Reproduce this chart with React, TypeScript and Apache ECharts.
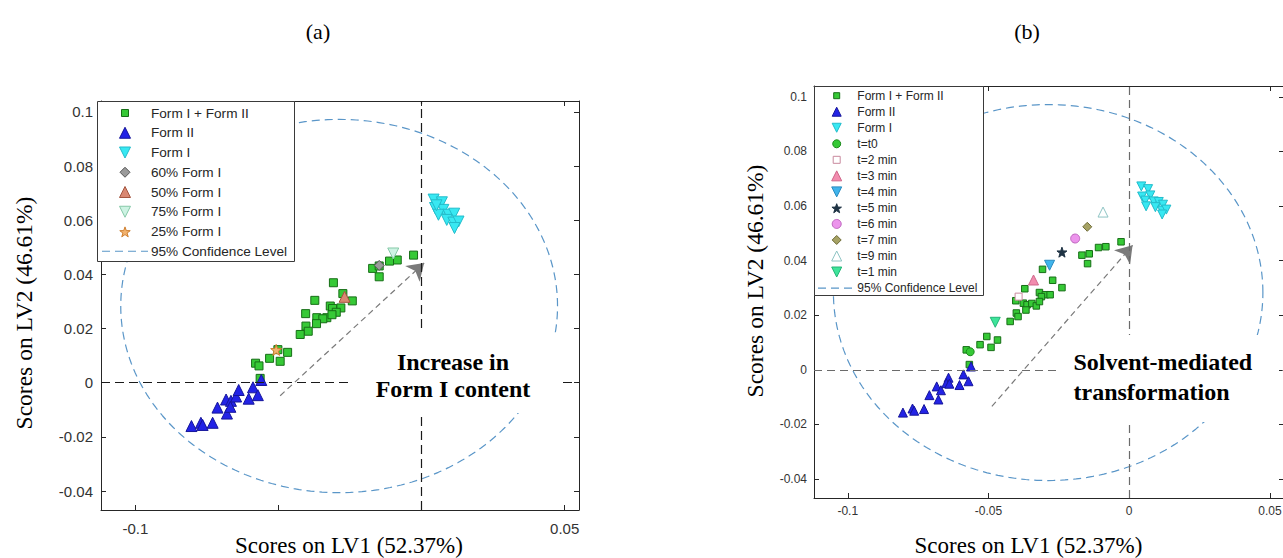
import { useEffect, useRef } from "react";
import * as echarts from "echarts";

type Pt = [number, number];

// ---------- axes ----------
const X_MIN = -0.112;
const X_MAX = 0.055;
const Y_MIN = -0.047;
const Y_MAX = 0.104;
const xTicks = [-0.1, -0.05, 0, 0.05];
const xTickLabelsA = ["-0.1", "", "", "0.05"];
const xTickLabelsB = ["-0.1", "-0.05", "0", "0.05"];
const yTicks = [-0.04, -0.02, 0, 0.02, 0.04, 0.06, 0.08, 0.1];
const yTickLabels = ["-0.04", "-0.02", "0", "0.02", "0.04", "0.06", "0.08", "0.1"];

// ---------- panel (a) data ----------
const aMix: Pt[] = [
  [-0.0028, 0.0471], [-0.0085, 0.0453], [-0.0112, 0.0449], [-0.0171, 0.0422], [-0.0148, 0.0391],
  [-0.0148, 0.0431], [-0.0308, 0.0369], [-0.0275, 0.0329], [-0.0242, 0.0302], [-0.0373, 0.0304],
  [-0.0319, 0.0283], [-0.0282, 0.0276], [-0.0311, 0.0274], [-0.0298, 0.026], [-0.0405, 0.0255],
  [-0.0366, 0.024], [-0.0331, 0.024], [-0.0313, 0.0251], [-0.0345, 0.0236], [-0.0404, 0.0209],
  [-0.0367, 0.0218], [-0.0396, 0.019], [-0.0424, 0.0178], [-0.0502, 0.0122], [-0.0468, 0.0112],
  [-0.0531, 0.009], [-0.0494, 0.0079], [-0.058, 0.0072], [-0.0568, 0.0062], [-0.0564, 0.0016],
];
const aForm2: Pt[] = [
  [-0.0804, -0.016], [-0.0771, -0.0148], [-0.0765, -0.0156], [-0.073, -0.0148], [-0.0713, -0.0092],
  [-0.068, -0.0114], [-0.0683, -0.0062], [-0.0666, -0.0067], [-0.0668, -0.0089], [-0.0648, -0.0051],
  [-0.0639, -0.0027], [-0.0604, -0.0059], [-0.0589, -0.0017], [-0.0572, -0.0046], [-0.056, 0.001],
];
const aForm1: Pt[] = [
  [0.0042, 0.0676], [0.0071, 0.0666], [0.0047, 0.0645], [0.0076, 0.0638], [0.0059, 0.062],
  [0.0094, 0.062], [0.0114, 0.0624], [0.0088, 0.0601], [0.0111, 0.0591], [0.0129, 0.0595],
  [0.0115, 0.0571], [0.0052, 0.0655],
];
const a60: Pt[] = [[-0.0148, 0.0433]];
const a50: Pt[] = [[-0.0269, 0.0317]];
const a75: Pt[] = [[-0.0099, 0.0477]];
const a25: Pt[] = [[-0.0508, 0.0121]];
const arrowA: Pt[] = [[-0.0494, -0.0048], [0.0009, 0.0442]];

// ---------- panel (b) data ----------
const bMix: Pt[] = [
  [-0.0029, 0.0469], [-0.0083, 0.0451], [-0.0109, 0.0448], [-0.0142, 0.0425], [-0.0168, 0.042],
  [-0.0148, 0.0389], [-0.0308, 0.0368], [-0.0272, 0.0328], [-0.0239, 0.0301], [-0.0371, 0.0297],
  [-0.0319, 0.0283], [-0.0298, 0.0275], [-0.0281, 0.0275], [-0.0312, 0.0268], [-0.0403, 0.0253],
  [-0.0376, 0.0244], [-0.0363, 0.0238], [-0.0346, 0.0243], [-0.033, 0.0234], [-0.0319, 0.025],
  [-0.0367, 0.0219], [-0.0401, 0.0208], [-0.0395, 0.0195], [-0.0423, 0.0177], [-0.0506, 0.0122],
  [-0.0468, 0.0109], [-0.053, 0.0092], [-0.0491, 0.0082], [-0.0579, 0.0073], [-0.0568, 0.0019],
];
const bForm2: Pt[] = [
  [-0.0804, -0.0157], [-0.077, -0.0142], [-0.0764, -0.015], [-0.0729, -0.0144], [-0.071, -0.0093],
  [-0.0678, -0.0109], [-0.0684, -0.0061], [-0.0669, -0.0075], [-0.0642, -0.0029], [-0.065, -0.0049],
  [-0.0639, -0.0051], [-0.0603, -0.0056], [-0.0589, -0.0017], [-0.0571, -0.0042], [-0.0562, 0.0012],
];
const bForm1: Pt[] = [
  [0.0043, 0.0672], [0.0067, 0.0662], [0.0046, 0.0635], [0.0075, 0.0639], [0.0057, 0.062],
  [0.0087, 0.0617], [0.0105, 0.0615], [0.012, 0.0605], [0.006, 0.0599], [0.0093, 0.0596],
  [0.0117, 0.0583], [0.0132, 0.0587], [0.0117, 0.0569],
];
const bT0: Pt[] = [[-0.0565, 0.0066]];
const bT2: Pt[] = [[-0.0393, 0.0268]];
const bT3: Pt[] = [[-0.034, 0.0329]];
const bT4: Pt[] = [[-0.0283, 0.0383]];
const bT5: Pt[] = [[-0.0239, 0.0431]];
const bT6: Pt[] = [[-0.0192, 0.0481]];
const bT7: Pt[] = [[-0.0149, 0.0524]];
const bT9: Pt[] = [[-0.0093, 0.0578]];
const bT1: Pt[] = [[-0.0476, 0.0174]];
const arrowB: Pt[] = [[-0.0488, -0.0134], [0.0012, 0.0456]];

// 95% confidence ellipse (centre and semi-axes, in score units)
const ELL = { cx: -0.0288, cy: 0.0283, rx: 0.0763, ry: 0.0689 };

// ---------- styles ----------
const SANS = '"Liberation Sans", Arial, Helvetica, sans-serif';
const SERIF = '"Liberation Serif", "Times New Roman", Times, serif';
const STAR =
  "path://M50,0 L61.8,33.8 L97.6,34.5 L69,56.2 L79.4,90.5 L50,70 L20.6,90.5 L31,56.2 L2.4,34.5 L38.2,33.8 Z";
const ELL_COLOR = "#5a96c8";
const GREEN = "#36c936";
const GREEN_EDGE = "#176e17";
const BLUE = "#2323e6";
const BLUE_EDGE = "#16169a";
const CYAN = "#38e8f2";
const CYAN_EDGE = "#22bccb";

interface SCfg {
  name: string;
  data: Pt[];
  shape: string;
  size: number;
  leg: number;
  fill: string;
  stroke: string;
}

const seriesA: SCfg[] = [
  { name: "Form I + Form II", data: aMix, shape: "square", size: 8, leg: 7, fill: GREEN, stroke: GREEN_EDGE },
  { name: "Form II", data: aForm2, shape: "up", size: 11, leg: 11, fill: BLUE, stroke: BLUE_EDGE },
  { name: "Form I", data: aForm1, shape: "down", size: 11, leg: 11, fill: CYAN, stroke: CYAN_EDGE },
  { name: "60% Form I", data: a60, shape: "diamond", size: 10, leg: 10, fill: "#9a9a9a", stroke: "#555555" },
  { name: "50% Form I", data: a50, shape: "up", size: 11, leg: 11, fill: "#d98872", stroke: "#a4553f" },
  { name: "75% Form I", data: a75, shape: "down", size: 11, leg: 11, fill: "#cdf3e3", stroke: "#86c9a8" },
  { name: "25% Form I", data: a25, shape: "star", size: 11, leg: 11, fill: "#f2b26e", stroke: "#cf7f30" },
];

const seriesB: SCfg[] = [
  { name: "Form I + Form II", data: bMix, shape: "square", size: 6.5, leg: 6, fill: GREEN, stroke: GREEN_EDGE },
  { name: "Form II", data: bForm2, shape: "up", size: 9, leg: 9, fill: BLUE, stroke: BLUE_EDGE },
  { name: "Form I", data: bForm1, shape: "down", size: 9, leg: 9, fill: CYAN, stroke: CYAN_EDGE },
  { name: "t=t0", data: bT0, shape: "circle", size: 8, leg: 8, fill: GREEN, stroke: "#1a8a1a" },
  { name: "t=2 min", data: bT2, shape: "square", size: 7, leg: 7, fill: "#ffffff", stroke: "#c98a9e" },
  { name: "t=3 min", data: bT3, shape: "up", size: 10, leg: 10, fill: "#f28cae", stroke: "#cf668a" },
  { name: "t=4 min", data: bT4, shape: "down", size: 10, leg: 10, fill: "#3fb4ec", stroke: "#2a8cc0" },
  { name: "t=5 min", data: bT5, shape: "star", size: 10, leg: 10, fill: "#1f3344", stroke: "#1f3344" },
  { name: "t=6 min", data: bT6, shape: "circle", size: 9, leg: 9, fill: "#ec94ec", stroke: "#bf66bf" },
  { name: "t=7 min", data: bT7, shape: "diamond", size: 9, leg: 9, fill: "#a6a264", stroke: "#6f6c38" },
  { name: "t=9 min", data: bT9, shape: "up", size: 10, leg: 10, fill: "#ffffff", stroke: "#8ec4c4" },
  { name: "t=1 min", data: bT1, shape: "down", size: 10, leg: 10, fill: "#3ee49a", stroke: "#22b577" },
];

const PANELS = [
  {
    grid: { left: 101, top: 101, width: 478, height: 409 },
    xLabels: xTickLabelsA,
    tickFont: 15,
    xMargin: 11,
    yMargin: 8,
    series: seriesA,
    arrow: arrowA,
    zeroColor: "#1a1a1a",
    zeroDash: [9, 5],
    legend: { x: 97, y: 101, w: 197, h: 160, mx: 125, tx: 151, y0: 113, dy: 19.75, dx0: 102, dx1: 148, font: 13.6 },
    note: { rx: 352, ry: 333, rw: 210, rh: 80, text: "Increase in\nForm I content", x: 453, y: 375.5, lh: 27, align: "center" },
    label: { text: "(a)", x: 318, y: 31 },
    xTitle: { x: 349, y: 545 },
    yTitle: { x: 24, y: 313 },
  },
  {
    grid: { left: 814, top: 86, width: 470, height: 412 },
    xLabels: xTickLabelsB,
    tickFont: 12,
    xMargin: 7,
    yMargin: 7,
    series: seriesB,
    arrow: arrowB,
    zeroColor: "#6b6b6b",
    zeroDash: [8, 5],
    legend: { x: 814, y: 86, w: 169, h: 209, mx: 836.7, tx: 857.3, y0: 95.7, dy: 16.03, dx0: 818, dx1: 855, font: 12 },
    note: { rx: 1056, ry: 335, rw: 222, rh: 87, text: "Solvent-mediated\ntransformation", x: 1073.5, y: 377, lh: 30, align: "left" },
    label: { text: "(b)", x: 1027, y: 31 },
    xTitle: { x: 1028.5, y: 545 },
    yTitle: { x: 755, y: 281 },
  },
];

function labelFor(v: number, ticks: number[], labels: string[]) {
  const i = ticks.findIndex((t) => Math.abs(t - v) < 1e-9);
  return i >= 0 ? labels[i] : "";
}

function ellipsePoints(): Pt[] {
  const pts: Pt[] = [];
  const n = 240;
  for (let i = 0; i <= n; i++) {
    const t = (i / n) * 2 * Math.PI;
    pts.push([ELL.cx + ELL.rx * Math.cos(t), ELL.cy + ELL.ry * Math.sin(t)]);
  }
  return pts;
}

function symbolOf(shape: string): { symbol: string; rotate: number } {
  switch (shape) {
    case "square":
      return { symbol: "rect", rotate: 0 };
    case "up":
      return { symbol: "triangle", rotate: 0 };
    case "down":
      return { symbol: "triangle", rotate: 180 };
    case "diamond":
      return { symbol: "diamond", rotate: 0 };
    case "star":
      return { symbol: STAR, rotate: 0 };
    default:
      return { symbol: "circle", rotate: 0 };
  }
}

function legendMarker(shape: string, cx: number, cy: number, s: number, fill: string, stroke: string): any {
  const h = s / 2;
  const style = { fill, stroke, lineWidth: 1 };
  if (shape === "square") return { type: "rect", z: 101, shape: { x: cx - h, y: cy - h, width: s, height: s }, style };
  if (shape === "circle") return { type: "circle", z: 101, shape: { cx, cy, r: h }, style };
  let points: number[][] = [];
  if (shape === "up") points = [[cx, cy - h], [cx + h, cy + h], [cx - h, cy + h]];
  else if (shape === "down") points = [[cx - h, cy - h], [cx + h, cy - h], [cx, cy + h]];
  else if (shape === "diamond") points = [[cx, cy - h], [cx + h, cy], [cx, cy + h], [cx - h, cy]];
  else {
    for (let k = 0; k < 10; k++) {
      const r = k % 2 === 0 ? h : h * 0.4;
      const a = -Math.PI / 2 + (k * Math.PI) / 5;
      points.push([cx + r * Math.cos(a), cy + 0.08 * s + r * Math.sin(a)]);
    }
  }
  return { type: "polygon", z: 101, shape: { points }, style };
}

function buildOption() {
  const grid: any[] = [];
  const xAxis: any[] = [];
  const yAxis: any[] = [];
  const series: any[] = [];
  const graphic: any[] = [];
  const axisColor = "#262626";

  PANELS.forEach((p, pi) => {
    grid.push({ ...p.grid, outerBoundsMode: "none", containLabel: false });
    ["bottom", "top"].forEach((pos, k) => {
      xAxis.push({
        type: "value",
        gridIndex: pi,
        position: pos,
        min: X_MIN,
        max: X_MAX,
        axisLine: { show: true, onZero: false, lineStyle: { color: axisColor, width: 1 } },
        axisTick: { show: true, inside: true, length: 5, customValues: xTicks, lineStyle: { color: axisColor } },
        axisLabel: {
          show: k === 0,
          customValues: xTicks,
          formatter: (v: number) => labelFor(v, xTicks, p.xLabels),
          fontSize: p.tickFont,
          fontFamily: SANS,
          color: "#333333",
          margin: p.xMargin,
        },
        splitLine: { show: false },
      });
    });
    ["left", "right"].forEach((pos, k) => {
      yAxis.push({
        type: "value",
        gridIndex: pi,
        position: pos,
        min: Y_MIN,
        max: Y_MAX,
        axisLine: { show: true, onZero: false, lineStyle: { color: axisColor, width: 1 } },
        axisTick: { show: true, inside: true, length: 5, customValues: yTicks, lineStyle: { color: axisColor } },
        axisLabel: {
          show: k === 0,
          customValues: yTicks,
          formatter: (v: number) => labelFor(v, yTicks, yTickLabels),
          fontSize: p.tickFont,
          fontFamily: SANS,
          color: "#333333",
          margin: p.yMargin,
        },
        splitLine: { show: false },
      });
    });

    const xi = pi * 2;
    const yi = pi * 2;
    // confidence ellipse + zero lines
    series.push({
      type: "line",
      name: "95% Confidence Level",
      xAxisIndex: xi,
      yAxisIndex: yi,
      data: ellipsePoints(),
      showSymbol: false,
      symbol: "none",
      silent: true,
      z: 1,
      lineStyle: { color: ELL_COLOR, width: 1.2, type: [8, 5] },
      markLine: {
        silent: true,
        symbol: ["none", "none"],
        label: { show: false },
        lineStyle: { color: p.zeroColor, width: 1.2, type: p.zeroDash },
        data: [{ yAxis: 0 }, { xAxis: 0 }],
      },
    });
    // arrow
    series.push({
      type: "lines",
      coordinateSystem: "cartesian2d",
      xAxisIndex: xi,
      yAxisIndex: yi,
      silent: true,
      z: 1,
      symbol: ["none", "arrow"],
      symbolSize: 16,
      lineStyle: { color: "#7a7a7a", width: 1.2, type: [6, 4], opacity: 1 },
      data: [{ coords: p.arrow }],
    });
    // scatter groups
    p.series.forEach((s) => {
      const sym = symbolOf(s.shape);
      series.push({
        type: "scatter",
        name: s.name,
        xAxisIndex: xi,
        yAxisIndex: yi,
        data: s.data,
        symbol: sym.symbol,
        symbolRotate: sym.rotate,
        symbolSize: s.size,
        silent: true,
        z: 3,
        itemStyle: { color: s.fill, borderColor: s.stroke, borderWidth: 1, opacity: 1 },
      });
    });

    // legend box
    const L = p.legend;
    graphic.push({
      type: "rect",
      z: 100,
      shape: { x: L.x + 0.5, y: L.y + 0.5, width: L.w, height: L.h },
      style: { fill: "#ffffff", stroke: "#3a3a3a", lineWidth: 1 },
    });
    p.series.forEach((s, i) => {
      const cy = L.y0 + i * L.dy;
      graphic.push(legendMarker(s.shape, L.mx, cy, s.leg, s.fill, s.stroke));
      graphic.push({
        type: "text",
        z: 101,
        x: L.tx,
        y: cy,
        style: { text: s.name, fill: "#262626", fontSize: L.font, fontFamily: SANS, align: "left", verticalAlign: "middle" },
      });
    });
    const cyLast = L.y0 + p.series.length * L.dy;
    graphic.push({
      type: "line",
      z: 101,
      shape: { x1: L.dx0, y1: cyLast, x2: L.dx1, y2: cyLast },
      style: { stroke: ELL_COLOR, lineWidth: 1.2, lineDash: [8, 5] },
    });
    graphic.push({
      type: "text",
      z: 101,
      x: L.tx,
      y: cyLast,
      style: { text: "95% Confidence Level", fill: "#262626", fontSize: L.font, fontFamily: SANS, align: "left", verticalAlign: "middle" },
    });

    // annotation with white background
    const N = p.note;
    graphic.push({
      type: "rect",
      z: 100,
      shape: { x: N.rx, y: N.ry, width: N.rw, height: N.rh },
      style: { fill: "#ffffff" },
    });
    graphic.push({
      type: "text",
      z: 101,
      x: N.x,
      y: N.y,
      style: {
        text: N.text,
        fill: "#000000",
        fontSize: 24,
        fontWeight: "bold",
        fontFamily: SERIF,
        align: N.align,
        verticalAlign: "middle",
        lineHeight: N.lh,
      },
    });

    // titles
    graphic.push({
      type: "text",
      z: 101,
      x: p.label.x,
      y: p.label.y,
      style: { text: p.label.text, fill: "#000", fontSize: 22, fontFamily: SERIF, align: "center", verticalAlign: "middle" },
    });
    graphic.push({
      type: "text",
      z: 101,
      x: p.xTitle.x,
      y: p.xTitle.y,
      style: { text: "Scores on LV1 (52.37%)", fill: "#000", fontSize: 23, fontFamily: SERIF, align: "center", verticalAlign: "middle" },
    });
    graphic.push({
      type: "text",
      z: 101,
      x: p.yTitle.x,
      y: p.yTitle.y,
      rotation: Math.PI / 2,
      style: { text: "Scores on LV2 (46.61%)", fill: "#000", fontSize: 23.5, fontFamily: SERIF, align: "center", verticalAlign: "middle" },
    });
  });

  return {
    animation: false,
    backgroundColor: "#ffffff",
    textStyle: { fontFamily: SANS },
    grid,
    xAxis,
    yAxis,
    series,
    graphic: { elements: graphic },
  };
}

export default function App() {
  const ref = useRef<HTMLDivElement>(null);
  useEffect(() => {
    if (!ref.current) return;
    const chart = echarts.init(ref.current, undefined, { renderer: "svg" });
    chart.setOption(buildOption() as any);
    return () => chart.dispose();
  }, []);
  return (
    <div
      ref={ref}
      style={{ position: "fixed", left: 0, top: 0, width: 1290, height: 558, background: "#fff" }}
    />
  );
}
